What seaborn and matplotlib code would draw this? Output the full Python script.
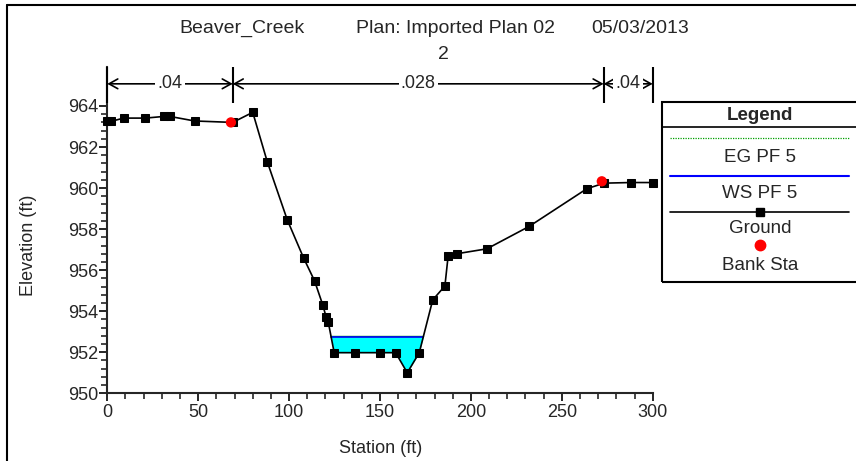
import numpy as np
import matplotlib
matplotlib.use("Agg")
import matplotlib.pyplot as plt
from matplotlib.lines import Line2D
from matplotlib.patches import Rectangle
from matplotlib.ticker import MultipleLocator, FixedLocator
import seaborn as sns

# ---------------- data ----------------
ground_sta = [0, 2, 9, 21, 31, 34.5, 48, 69, 80, 88, 99, 108, 114, 118.5, 120.3,
              121.5, 124.8, 136.2, 150, 158.6, 165, 171.6, 179, 185.7, 187.5,
              192.2, 208.8, 232, 263.8, 273.3, 287.8, 300]
ground_elev = [963.25, 963.25, 963.41, 963.41, 963.49, 963.49, 963.27, 963.2,
               963.69, 961.28, 958.45, 956.59, 955.48, 954.31, 953.74, 953.49,
               951.98, 951.98, 951.98, 951.98, 951.0, 951.98, 954.55, 955.23,
               956.71, 956.8, 957.04, 958.13, 959.97, 960.24, 960.27, 960.27]
bank_sta = [68, 272]
bank_elev = [963.2, 960.33]
ws_elev = 952.76
eg_elev = 952.79
n_breaks = [0, 69, 273, 300]
n_values = [".04", ".028", ".04"]
title_parts = ["Beaver_Creek", "Plan: Imported Plan 02", "05/03/2013"]
subtitle = "2"
legend_labels = ["EG PF 5", "WS PF 5", "Ground", "Bank Sta"]

# ---------------- style ----------------
sns.set_style("ticks")
plt.rcParams["font.family"] = ["Liberation Sans", "DejaVu Sans"]

W, H = 856, 461
fig = plt.figure(figsize=(W / 100, H / 100), dpi=100)
fx = lambda px: px / W
fy = lambda py: 1 - py / H

ax = fig.add_axes([fx(107.3), fy(393.3), fx(652.7) - fx(107.3), fy(67) - fy(393.3)])
ax.set_xlim(0, 300)
ax.set_ylim(950, 965.9)

gs = np.array(ground_sta, dtype=float)
ge = np.array(ground_elev, dtype=float)

# water fill between WS and ground
ax.fill_between(gs, ge, ws_elev, where=ge < ws_elev, interpolate=True,
                color="#00FFFF", linewidth=0, zorder=1)

# intersections of WS with ground (left and right of channel)
low = int(np.argmin(ge))
left_x = np.interp(ws_elev, ge[:low + 1][::-1], gs[:low + 1][::-1])
right_x = np.interp(ws_elev, ge[low:], gs[low:])
ax.plot([left_x, right_x], [eg_elev, eg_elev], color="#00A000", lw=1.0, zorder=2)
ax.plot([left_x, right_x], [ws_elev, ws_elev], color="#0000FF", lw=1.2, zorder=3)

# ground
sns.lineplot(x=ground_sta, y=ground_elev, sort=False, estimator=None, ax=ax,
             color="black", lw=1.2, marker="s", markersize=6.2,
             markeredgecolor="black", markerfacecolor="black", zorder=4,
             clip_on=False)
# bank stations
sns.scatterplot(x=bank_sta, y=bank_elev, ax=ax, color="#FF0000", s=55,
                edgecolor="none", zorder=5, clip_on=False)

# Manning's n brackets
ax.vlines(n_breaks, 964.15, 965.9, color="black", lw=1.5, clip_on=False, zorder=6)
n_y = 965.08
for i, lab in enumerate(n_values):
    a, b = n_breaks[i], n_breaks[i + 1]
    ax.annotate("", xy=(a, n_y), xytext=(b, n_y),
                arrowprops=dict(arrowstyle="<->,head_length=0.45,head_width=0.25",
                                color="black", lw=1.2, shrinkA=0, shrinkB=0,
                                mutation_scale=14),
                annotation_clip=False, zorder=6)
    ax.text((a + b) / 2, n_y, lab, ha="center", va="center", fontsize=13,
            bbox=dict(boxstyle="square,pad=0.12", fc="white", ec="none"),
            zorder=7)

# axes styling
for s in ["top", "right"]:
    ax.spines[s].set_visible(False)
for s in ["left", "bottom"]:
    ax.spines[s].set_linewidth(1.5)
ax.xaxis.set_major_locator(MultipleLocator(50))
ax.xaxis.set_minor_locator(MultipleLocator(10))
ax.yaxis.set_major_locator(FixedLocator(np.arange(950, 964.1, 2)))
ax.yaxis.set_minor_locator(FixedLocator(np.arange(950, 964.01, 0.4)))
ax.tick_params(which="major", direction="out", length=5.5, width=1.4,
               labelsize=13)
ax.tick_params(axis="x", which="major", pad=2)
ax.tick_params(axis="y", which="major", pad=1)
ax.tick_params(which="minor", direction="out", length=4, width=1.2)
ax.set_xlabel("")
ax.set_ylabel("")
ax.set_facecolor("white")

# axis labels
fig.text(fx(380.5), fy(448), "Station (ft)", ha="center", va="center", fontsize=13)
fig.text(fx(28.5), fy(245), "Elevation (ft)", ha="center", va="center",
         fontsize=13, rotation=90)

# title
for txt, cx in zip(title_parts, [242.5, 455, 640]):
    fig.text(fx(cx), fy(28.5), txt, ha="center", va="center", fontsize=14)
fig.text(fx(443.3), fy(54.3), subtitle, ha="center", va="center", fontsize=14)

# figure frame (top and left)
fig.add_artist(Line2D([fx(7), 1.0], [fy(5), fy(5)], color="black", lw=1.5,
                      transform=fig.transFigure))
fig.add_artist(Line2D([fx(7), fx(7)], [fy(5), 0.0], color="black", lw=1.5,
                      transform=fig.transFigure))

# legend box
fig.add_artist(Rectangle((fx(661.7), fy(281.7)), fx(900) - fx(661.7),
                         fy(101.7) - fy(281.7), fill=False, ec="black", lw=1.5,
                         transform=fig.transFigure))
fig.add_artist(Line2D([fx(661.7), 1.0], [fy(127.3), fy(127.3)], color="black",
                      lw=1.2, transform=fig.transFigure))
lc = 760
fig.text(fx(lc), fy(115), "Legend", ha="center", va="center", fontsize=13.5,
         fontweight="bold")
fig.add_artist(Line2D([fx(670), fx(849)], [fy(138), fy(138)], color="#00A000",
                      lw=0.9, ls=(0, (1, 1)), transform=fig.transFigure))
fig.text(fx(lc), fy(157), legend_labels[0], ha="center", va="center", fontsize=13.5)
fig.add_artist(Line2D([fx(670), fx(849)], [fy(176), fy(176)], color="#0000FF",
                      lw=1.5, transform=fig.transFigure))
fig.text(fx(lc), fy(193), legend_labels[1], ha="center", va="center", fontsize=13.5)
fig.add_artist(Line2D([fx(670), fx(849)], [fy(212), fy(212)], color="black",
                      lw=1.2, transform=fig.transFigure))
fig.add_artist(Line2D([fx(lc)], [fy(212)], color="black", marker="s",
                      markersize=6, ls="none", transform=fig.transFigure))
fig.text(fx(lc), fy(228), legend_labels[2], ha="center", va="center", fontsize=13.5)
fig.add_artist(Line2D([fx(lc)], [fy(245)], color="#FF0000", marker="o",
                      markersize=7.5, ls="none", transform=fig.transFigure))
fig.text(fx(lc), fy(265), legend_labels[3], ha="center", va="center", fontsize=13.5)

fig.savefig("out.png", dpi=100, facecolor="white")
